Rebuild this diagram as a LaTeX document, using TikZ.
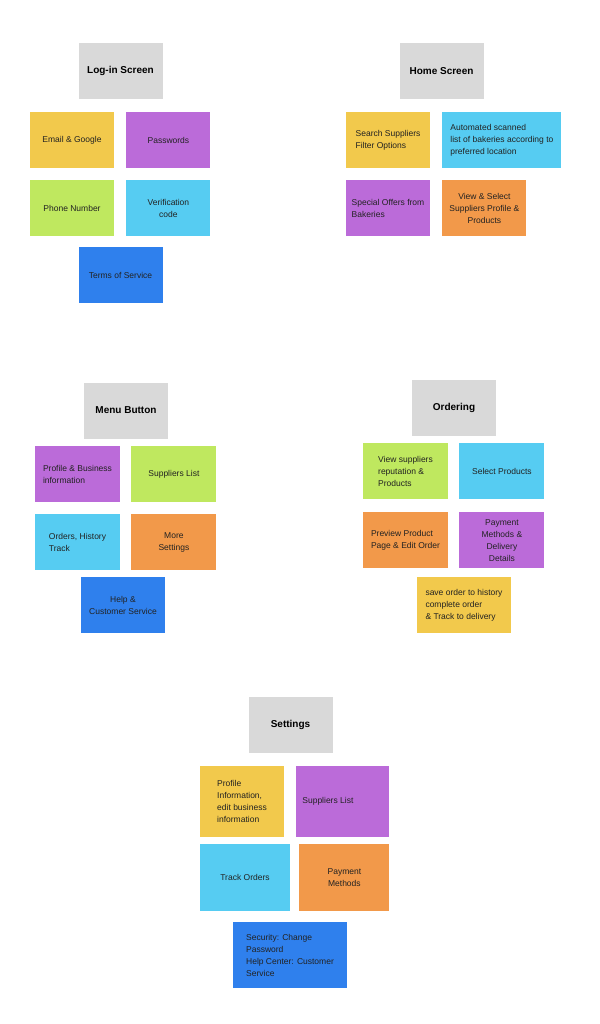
\documentclass[tikz,border=0pt]{standalone}
\usepackage{fontspec}
\setmainfont{Liberation Sans}
\definecolor{gris}{RGB}{217,217,217}
\definecolor{amarillo}{RGB}{242,201,76}
\definecolor{morado}{RGB}{187,107,217}
\definecolor{lima}{RGB}{191,232,95}
\definecolor{celeste}{RGB}{86,204,242}
\definecolor{azul}{RGB}{47,128,237}
\definecolor{naranja}{RGB}{242,153,74}
\definecolor{tinta}{RGB}{34,34,34}
\usetikzlibrary{positioning}

\begin{document}
\begin{tikzpicture}[
    x=1pt, y=-1pt,
    node distance=12pt,
    sticky/.style={rectangle, inner sep=0pt, minimum width=84pt, minimum height=56pt,
      align=left, text=tinta, font=\fontsize{8.5}{12}\selectfont},
    title/.style={sticky, fill=gris, text=black, font=\bfseries\fontsize{10}{12}\selectfont}
  ]
    \fill[white] (0,0) rectangle (599,1024);
    \useasboundingbox (0,0) rectangle (599,1024);

    % Log-in screen
    \node[title] (login) at (120.5,71) {Log-in Screen};
    \node[sticky, fill=amarillo] (email) at (72,140) {Email \& Google};
    \node[sticky, fill=morado, right=of email] (pass) {Passwords};
    \node[sticky, fill=lima, below=of email] (phone) {Phone Number};
    \node[sticky, fill=celeste, right=of phone, align=center] (verif) {Verification\\code};
    \node[sticky, fill=azul] (terms) at (120.5,275) {Terms of Service};

    % Home screen
    \node[title] (home) at (441.5,71) {Home Screen};
    \node[sticky, fill=amarillo] (search) at (388,140) {Search Suppliers\\Filter Options};
    \node[sticky, fill=celeste, minimum width=119pt, right=of search] (auto)
      {Automated scanned\\list of bakeries according to\\preferred location};
    \node[sticky, fill=morado, below=of search] (offers) {Special Offers from\\Bakeries};
    \node[sticky, fill=naranja, right=of offers, align=center] (viewsel)
      {View \& Select\\Suppliers Profile \&\\Products};

    % Menu button
    \node[title] (menu) at (126,410.5) {Menu Button};
    \node[sticky, fill=morado, minimum width=85pt] (profile) at (77.5,474)
      {Profile \& Business\\information};
    \node[sticky, fill=lima, minimum width=85pt, right=11pt of profile] (supl) {Suppliers List};
    \node[sticky, fill=celeste, minimum width=85pt, below=of profile] (orders)
      {Orders, History\\Track};
    \node[sticky, fill=naranja, minimum width=85pt, right=11pt of orders, align=center] (more)
      {More\\Settings};
    \node[sticky, fill=azul, align=center] (help) at (123,605) {Help \&\\Customer Service};

    % Ordering
    \node[title] (ordering) at (454,408) {Ordering};
    \node[sticky, fill=lima, minimum width=85pt] (viewsup) at (405.5,471)
      {View suppliers\\reputation \&\\Products};
    \node[sticky, fill=celeste, minimum width=85pt, right=11pt of viewsup] (select)
      {Select Products};
    \node[sticky, fill=naranja, minimum width=85pt, below=13pt of viewsup] (preview)
      {Preview Product\\Page \& Edit Order};
    \node[sticky, fill=morado, minimum width=85pt, right=11pt of preview, align=center] (paydel)
      {Payment\\Methods \&\\Delivery\\Details};
    \node[sticky, fill=amarillo, minimum width=94pt] (save) at (464,605)
      {save order to history\\complete order\\\& Track to delivery};

    % Settings
    \node[title] (settings) at (290.5,725) {Settings};
    \node[sticky, fill=amarillo, minimum height=71pt] (profinfo) at (242,801.5)
      {Profile\\Information,\\edit business\\information};
    \node[sticky, fill=morado, minimum width=93pt, minimum height=71pt, right=of profinfo] (suppl)
      {Suppliers List\hspace*{30pt}};
    \node[sticky, fill=celeste, minimum width=90pt, minimum height=67pt] (track) at (245,877.5)
      {Track Orders};
    \node[sticky, fill=naranja, minimum width=90pt, minimum height=67pt, right=9pt of track,
      align=center] (paymeth) {Payment\\Methods};
    \node[sticky, fill=azul, minimum width=114pt, minimum height=66pt] (security) at (290,955)
      {Security: Change\\Password\\Help Center: Customer\\Service};
  \end{tikzpicture}
\end{document}
